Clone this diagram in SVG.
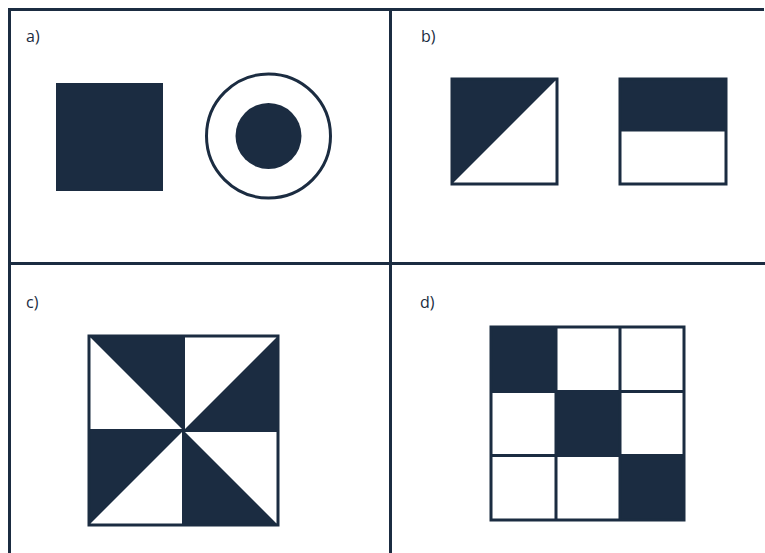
<svg xmlns="http://www.w3.org/2000/svg" width="765" height="553" viewBox="0 0 765 553">
<style>
.ln{stroke:#1b2c41;stroke-width:3;fill:none}
.fill{fill:#1b2c41}
.lbl{font-family:"Open Sans","Liberation Sans",sans-serif;font-size:16px;fill:#1b2c41}
</style>
<rect width="765" height="553" fill="#ffffff"/>
<g id="frame">
<path class="ln" d="M9.5 553 V9.5 H764 M390.5 9.5 V553 M9.5 263.5 H765"/>
</g>
<g id="panel-a">
<text class="lbl" x="26" y="42">a)</text>
<rect class="fill" x="56" y="83" width="107" height="108"/>
<circle class="ln" cx="268.5" cy="136" r="62"/>
<circle class="fill" cx="268.5" cy="136" r="33"/>
</g>
<g id="panel-b">
<text class="lbl" x="421" y="42">b)</text>
<polygon class="fill" points="452,79 557,79 452,184"/>
<rect class="ln" x="452" y="79" width="105" height="105"/>
<rect class="fill" x="620" y="79" width="106" height="52.5"/>
<rect class="ln" x="620" y="79" width="106" height="105"/>
</g>
<g id="panel-c">
<text class="lbl" x="26" y="308">c)</text>
<polygon class="fill" points="89,336 183.5,336 183.5,430.5"/>
<polygon class="fill" points="278,336 278,430.5 183.5,430.5"/>
<polygon class="fill" points="89,430.5 183.5,430.5 89,525"/>
<polygon class="fill" points="183.5,430.5 183.5,525 278,525"/>
<rect class="ln" x="89" y="336" width="189" height="189"/>
<path class="ln" d="M183.5 336 V525 M89 430.5 H278"/>
</g>
<g id="panel-d">
<text class="lbl" x="420" y="308">d)</text>
<rect class="fill" x="491" y="327" width="65" height="64.5"/>
<rect class="fill" x="556" y="391.5" width="64" height="64"/>
<rect class="fill" x="620" y="455.5" width="64" height="64.5"/>
<rect class="ln" x="491" y="327" width="193" height="193"/>
<path class="ln" d="M556 327 V520 M620 327 V520 M491 391.5 H684 M491 455.5 H684"/>
</g>
</svg>
